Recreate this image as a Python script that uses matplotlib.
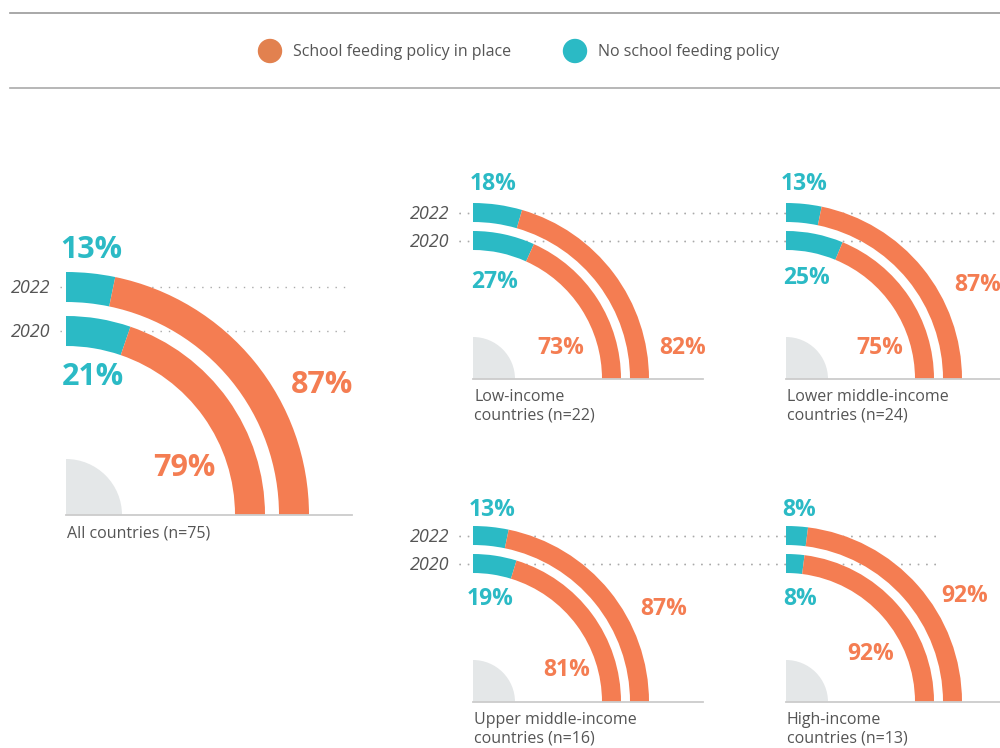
import matplotlib.pyplot as plt
from matplotlib.patches import Wedge

plt.rcParams['font.family'] = ['Open Sans', 'DejaVu Sans']

# data
groups = ['All countries (n=75)', 'Low-income\ncountries (n=22)', 'Lower middle-income\ncountries (n=24)',
          'Upper middle-income\ncountries (n=16)', 'High-income\ncountries (n=13)']
no_policy_2022 = [13, 18, 13, 13, 8]
no_policy_2020 = [21, 27, 25, 19, 8]
policy_2022 = [87, 82, 87, 87, 92]
policy_2020 = [79, 73, 75, 81, 92]
years = ['2022', '2020']
legend_labels = ['School feeding policy in place', 'No school feeding policy']

orange = '#F47D52'
teal = '#2BBAC5'
grey_txt = '#555555'

# layout (pixels, y down)
centers = [(66, 515), (473, 379), (786, 379), (473, 702), (786, 702)]
big = dict(outer=(213, 243), inner=(169, 199), hub=56, pct=22, year=13, base=286)
small = dict(outer=(157, 176), inner=(129, 148), hub=42, pct=16.5, year=13, base=230)
sizes = [big, small, small, small, small]
# label offsets from centre: teal 2022, teal 2020, orange 2022, orange 2020
offsets = [
    [(25, -265), (27, -138), (256, -130), (118, -47)],
    [(20, -195), (22, -97), (210, -31), (88, -31)],
    [(18, -195), (21, -101), (192, -94), (94, -31)],
    [(19, -192), (17, -103), (191, -93), (94, -32)],
    [(13, -192), (14, -103), (179, -106), (85, -48)],
]
dot_spans = [(60, 350), (459, 1000), (459, 1000), (459, 942), (459, 942)]

fig = plt.figure(figsize=(10, 7.48), dpi=100)
ax = fig.add_axes([0, 0, 1, 1])
ax.set_xlim(0, 1000)
ax.set_ylim(748, 0)
ax.axis('off')

# header rules + legend
ax.plot([10, 1000], [13, 13], color='#999999', lw=1.2)
ax.plot([10, 1000], [88, 88], color='#aaaaaa', lw=1.2)
for (x, col, lab) in zip([270, 575], ['#E2814F', teal], legend_labels):
    ax.add_patch(plt.Circle((x, 51), 11.5, color=col))
    ax.text(x + 23, 52, lab, fontsize=11.5, color=grey_txt, va='center', ha='left')

for i, name in enumerate(groups):
    cx, cy = centers[i]
    s = sizes[i]
    # hub + baseline
    ax.add_patch(Wedge((cx, cy), s['hub'], -90, 0, color='#E4E7E8', lw=0))
    ax.plot([cx, min(cx + s['base'], 1000)], [cy, cy], color='#cccccc', lw=1.3)
    # rings
    for (r0, r1), t, p in [(s['outer'], no_policy_2022[i], policy_2022[i]),
                           (s['inner'], no_policy_2020[i], policy_2020[i])]:
        a_t = 90 - t * 0.9
        a_p = a_t - p * 0.9
        ax.add_patch(Wedge((cx, cy), r1, -90, -a_t, width=r1 - r0, color=teal, lw=0))
        ax.add_patch(Wedge((cx, cy), r1, -a_t, -a_p, width=r1 - r0, color=orange, lw=0))
    # year guides
    x0, x1 = dot_spans[i]
    for (r0, r1), yr in zip([s['outer'], s['inner']], years):
        ym = cy - (r0 + r1) / 2
        ax.plot([x0, x1], [ym, ym], color='#aaaaaa', lw=1.0, ls=(0, (1, 5)), zorder=0)
        if i in (0, 1, 3):
            ax.text(x0 - 10, ym + 1, yr, fontsize=s['year'], style='italic', color=grey_txt,
                    ha='right', va='center')
    # percentage labels
    vals = [no_policy_2022[i], no_policy_2020[i], policy_2022[i], policy_2020[i]]
    cols = [teal, teal, orange, orange]
    for (dx, dy), v, c in zip(offsets[i], vals, cols):
        ax.text(cx + dx, cy + dy, f'{v}%', fontsize=s['pct'], fontweight='bold', color=c,
                ha='center', va='center')
    # group label
    ax.text(cx + 1, cy + 10, name, fontsize=11.5, color=grey_txt,
            ha='left', va='top', linespacing=1.2)

fig.savefig('out.png', dpi=100)
